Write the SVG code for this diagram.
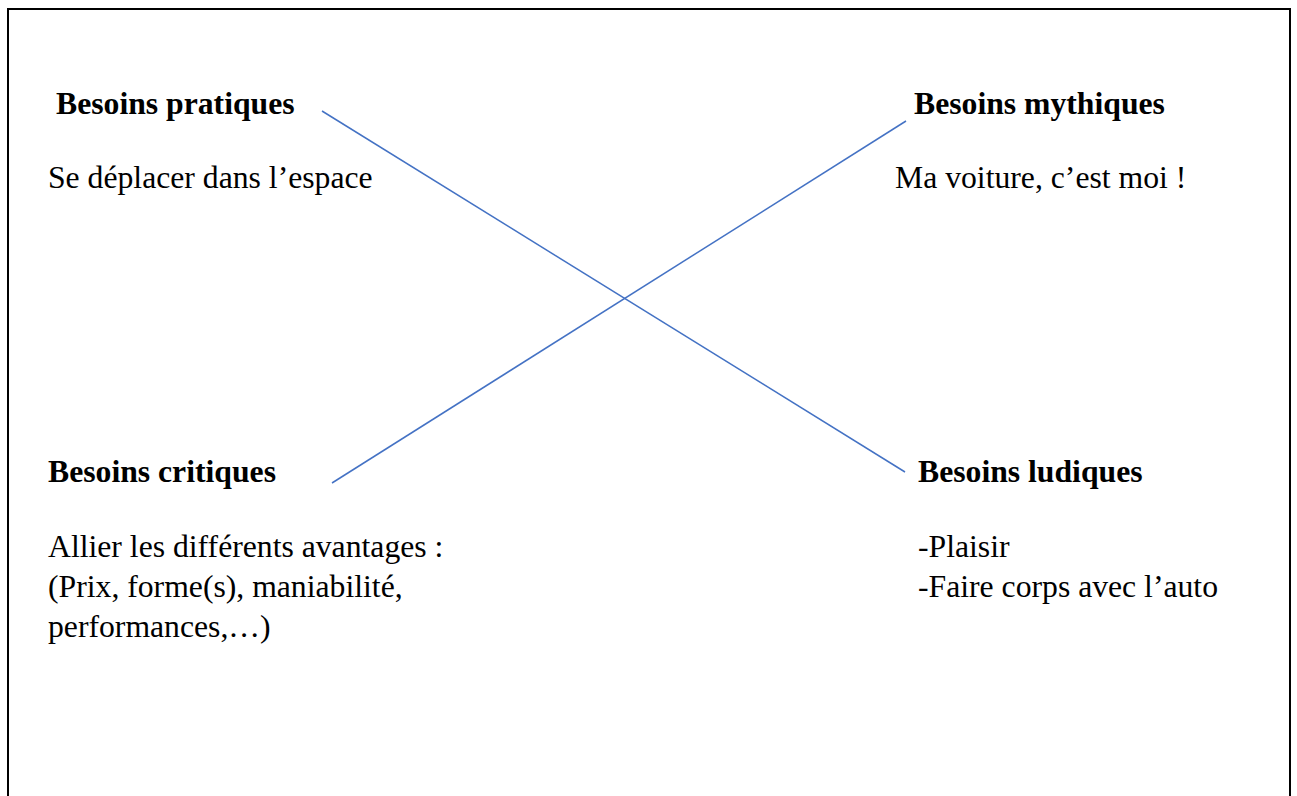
<svg xmlns="http://www.w3.org/2000/svg" width="1297" height="796" viewBox="0 0 1297 796">
<style>
.h{font-family:"Liberation Serif","Times New Roman",serif;font-weight:bold;font-size:31.7px;fill:#000}
.t{font-family:"Liberation Serif","Times New Roman",serif;font-size:31.7px;fill:#000}
.c{stroke:#4472C4;stroke-width:1.5;fill:none}
</style>
<rect width="1297" height="796" fill="#fff"/>
<path d="M8 796 V9 H1290 V796" fill="none" stroke="#000" stroke-width="2"/>
<g id="connectors">
<line class="c" x1="322" y1="111" x2="905" y2="472"/>
<line class="c" x1="332" y1="483" x2="906" y2="121"/>
</g>
<g id="pratiques">
<text class="h" x="56" y="114">Besoins pratiques</text>
<text class="t" x="48" y="188">Se déplacer dans l’espace</text>
</g>
<g id="mythiques">
<text class="h" x="914" y="114">Besoins mythiques</text>
<text class="t" x="895" y="188">Ma voiture, c’est moi !</text>
</g>
<g id="critiques">
<text class="h" x="48" y="482">Besoins critiques</text>
<text class="t" x="48" y="557">Allier les différents avantages :</text>
<text class="t" x="48" y="597">(Prix, forme(s), maniabilité,</text>
<text class="t" x="48" y="637">performances,…)</text>
</g>
<g id="ludiques">
<text class="h" x="918" y="482">Besoins ludiques</text>
<text class="t" x="918" y="557">-Plaisir</text>
<text class="t" x="918" y="597">-Faire corps avec l’auto</text>
</g>
</svg>
